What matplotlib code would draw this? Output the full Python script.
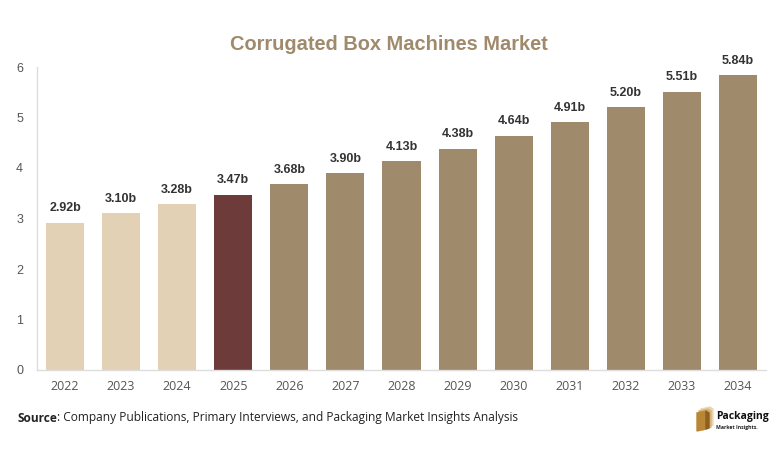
import matplotlib
matplotlib.use("Agg")
import matplotlib.pyplot as plt
from matplotlib.patches import Polygon

years = ["2022", "2023", "2024", "2025", "2026", "2027", "2028", "2029", "2030", "2031", "2032", "2033", "2034"]
values = [2.92, 3.10, 3.28, 3.47, 3.68, 3.90, 4.13, 4.38, 4.64, 4.91, 5.20, 5.51, 5.84]
labels = ["2.92b", "3.10b", "3.28b", "3.47b", "3.68b", "3.90b", "4.13b", "4.38b", "4.64b", "4.91b", "5.20b", "5.51b", "5.84b"]
yticks = [0, 1, 2, 3, 4, 5, 6]

light = "#E2D1B4"
dark = "#6E3B3B"
mid = "#A08A6C"
colors = [light, light, light, dark] + [mid] * 9

W, H = 782, 457
fig = plt.figure(figsize=(W / 100, H / 100), dpi=100)
ax = fig.add_axes([37 / W, (H - 370) / H, (766 - 37) / W, (370 - 67) / H])

x = list(range(len(years)))
ax.bar(x, values, width=0.68, color=colors, edgecolor="none", zorder=2)
for xi, v, lab in zip(x, values, labels):
    ax.annotate(lab, (xi, v), xytext=(0, 6), textcoords="offset points",
                ha="center", va="bottom", fontsize=9, fontweight="bold",
                color="#333333", family="Liberation Sans")

ax.set_xlim(-0.5, len(years) - 0.5)
ax.set_ylim(0, 6)
ax.set_xticks(x)
ax.set_xticklabels(years, fontsize=9, color="#555555", family="Open Sans")
ax.set_yticks(yticks)
ax.set_yticklabels([str(t) for t in yticks], fontsize=9, color="#555555", family="Liberation Sans")
ax.tick_params(axis="both", length=0)
ax.tick_params(axis="x", pad=7)
ax.tick_params(axis="y", pad=10)
for s in ["top", "right"]:
    ax.spines[s].set_visible(False)
for s in ["left", "bottom"]:
    ax.spines[s].set_color("#DDDDDD")
    ax.spines[s].set_linewidth(1)

fig.text(389 / W, 1 - 45 / H, "Corrugated Box Machines Market", ha="center", va="center",
         fontsize=14.4, fontweight="bold", color=mid, family="Liberation Sans")

src_y = 1 - 418 / H
t1 = fig.text(17 / W, src_y, "Source", ha="left", va="center", fontsize=8.6,
              fontweight="bold", color="#222222", family="Open Sans")
fig.canvas.draw()
bb = t1.get_window_extent()
fig.text(bb.x1 / W, src_y, ": Company Publications, Primary Interviews, and Packaging Market Insights Analysis",
         ha="left", va="center", fontsize=8.6, color="#222222", family="Open Sans")

# logo
def px(xp, yp):
    return (xp / W, 1 - yp / H)
back2 = [px(701, 409), px(710, 407), px(713, 409), px(713, 425), px(704, 428)]
back1 = [px(699, 411), px(708, 409), px(711, 411), px(711, 427), px(702, 430)]
front = [px(697, 413), px(706, 411), px(706, 429), px(697, 431)]
side = [px(706, 411), px(709, 413), px(709, 428), px(706, 429)]
for pts, c in [(back2, "#EAD7B0"), (back1, "#D9B47A"), (front, "#B98636"), (side, "#8C6020")]:
    fig.patches.append(Polygon(pts, closed=True, transform=fig.transFigure, color=c, figure=fig))
fig.text(716 / W, 1 - 417 / H, "Packaging", ha="left", va="center", fontsize=7.5,
         fontweight="bold", color="#111111", family="Open Sans")
fig.text(716 / W, 1 - 427.5 / H, "Market Insights.", ha="left", va="center", fontsize=3.7,
         fontweight="bold", color="#222222", family="Open Sans")

fig.savefig("out.png", dpi=100)
